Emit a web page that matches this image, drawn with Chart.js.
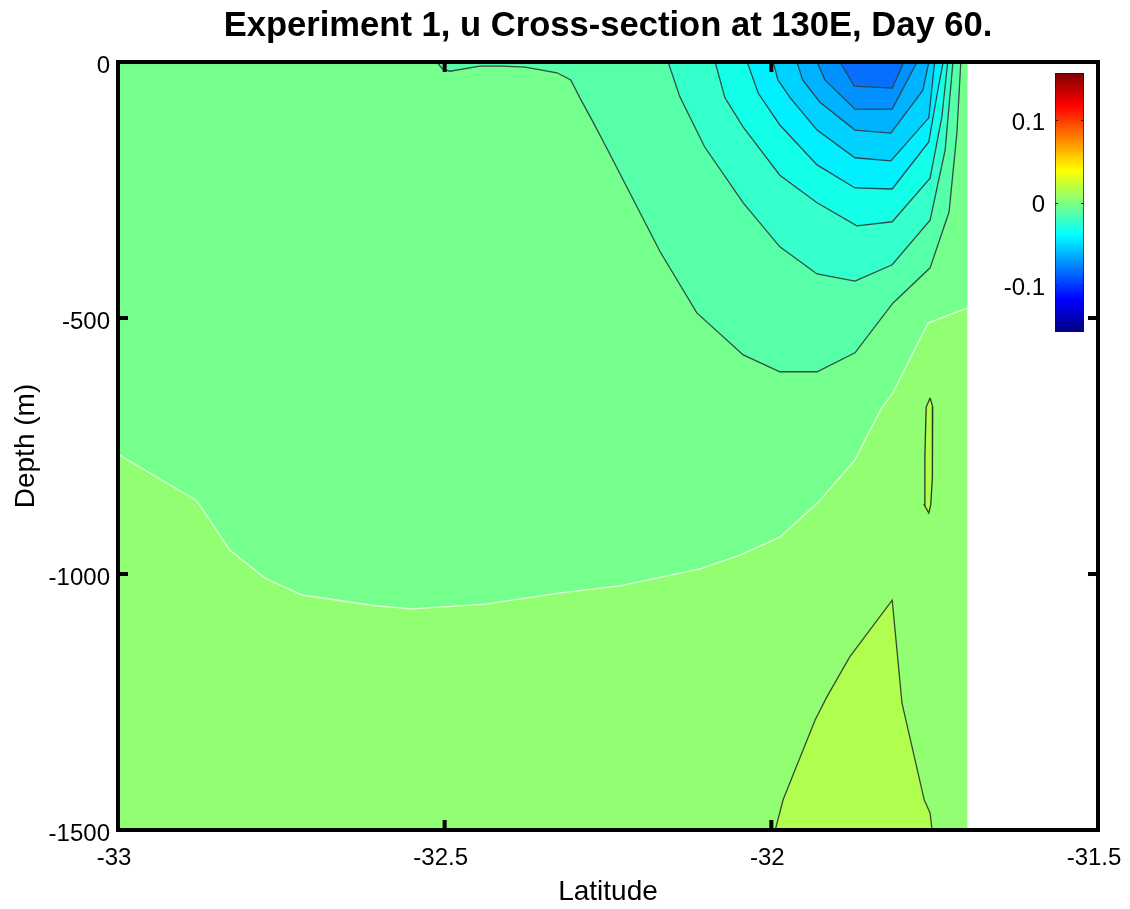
<!DOCTYPE html>
<html lang="en">

<head>
    <meta charset="UTF-8">
    <title>Experiment 1, u Cross-section at 130E, Day 60.</title>
    <script src="https://cdn.jsdelivr.net/npm/chart.js"></script>
    <style>
        body { margin: 0; background: #fff; }
        #wrap { position: relative; width: 1130px; height: 909px; }
        canvas { position: absolute; }
    </style>
</head>

<body>
    <div id="wrap">
        <canvas id="sectionChart" width="1130" height="909" style="left:0;top:0"></canvas>
        <canvas id="colorbar" width="100" height="285" style="left:990px;top:60px"></canvas>
    </div>
    <script>
        // axis ticks
        const latTicks = [-33, -32.5, -32, -31.5];
        const depthTicks = [-1500, -1000, -500, 0];
        const colorTicks = [-0.1, 0, 0.1];
        const colorRange = [-0.157, 0.157];

        // jet colormap of the colorbar, bottom to top
        const jetStops = [0, 0.125, 0.375, 0.625, 0.875, 1];
        const jetColors = ['#000080', '#0000ff', '#00ffff', '#ffff00', '#ff0000', '#800000'];

        // data region (lat runs out at -31.7)
        const baseLat = [-33, -31.7, -31.7, -33];
        const baseDepth = [0, 0, -1500, -1500];

        // contour lines, latitude / depth
        const lineALat = [-33, -32.882, -32.875, -32.829, -32.775, -32.718, -32.607, -32.55, -32.438, -32.323, -32.232, -32.109, -32.048, -31.987, -31.929, -31.872, -31.849, -31.831, -31.814, -31.76, -31.7];
        const lineADepth = [-766, -855, -865, -953, -1008, -1041, -1062, -1068, -1059, -1037, -1023, -990, -963, -928, -861, -777, -719, -676, -646, -510, -480];
        const cornerLat = [-31.7, -33];
        const cornerDepth = [0, 0];

        const lineBLat = [-32.512, -32.503, -32.492, -32.446, -32.411, -32.377, -32.328, -32.307, -32.293, -32.273, -32.252, -32.17, -32.114, -32.043, -31.987, -31.93, -31.872, -31.814, -31.757, -31.728, -31.716, -31.71];
        const lineBDepth = [0, -14, -18, -8, -8, -10, -21, -35, -70, -117, -168, -371, -490, -572, -605, -605, -568, -471, -402, -293, -139, 0];

        const lineCLat = [-32.158, -32.14, -32.102, -32.043, -31.987, -31.93, -31.872, -31.815, -31.757, -31.734, -31.722];
        const lineCDepth = [0, -68, -166, -275, -361, -414, -428, -396, -309, -172, 0];

        const lineDLat = [-32.086, -32.071, -32.043, -31.987, -31.93, -31.869, -31.815, -31.757, -31.739, -31.73];
        const lineDDepth = [0, -70, -127, -221, -275, -320, -312, -227, -107, 0];

        const lineELat = [-32.037, -32.02, -31.987, -31.93, -31.872, -31.815, -31.759, -31.746, -31.737];
        const lineEDepth = [0, -61, -123, -201, -246, -248, -156, -61, 0];

        const lineFLat = [-31.997, -31.99, -31.971, -31.93, -31.872, -31.817, -31.759, -31.75];
        const lineFDepth = [0, -35, -70, -133, -187, -193, -109, 0];

        const lineGLat = [-31.961, -31.952, -31.926, -31.872, -31.817, -31.768, -31.759];
        const lineGDepth = [0, -35, -78, -133, -139, -55, 0];

        const lineHLat = [-31.93, -31.918, -31.872, -31.815, -31.777];
        const lineHDepth = [0, -35, -92, -92, 0];

        const lineILat = [-31.895, -31.873, -31.815, -31.797];
        const lineIDepth = [0, -47, -51, 0];

        const patchLat = [-31.994, -31.982, -31.933, -31.915, -31.88, -31.815, -31.8, -31.766, -31.757, -31.754];
        const patchDepth = [-1500, -1441, -1285, -1240, -1162, -1051, -1252, -1441, -1467, -1500];

        const lensLat = [-31.757, -31.753, -31.753, -31.754, -31.756, -31.759, -31.766, -31.765, -31.763, -31.757];
        const lensDepth = [-656, -674, -723, -811, -865, -881, -865, -771, -674, -656];

        function toPoints(lats, depths) {
            return lats.map(function (lat, i) {
                return { x: lat, y: depths[i] };
            });
        }

        // painted back to front
        const layers = [
            { lat: baseLat, depth: baseDepth, color: '#92ff72', line: null },
            { lat: lineALat.concat(cornerLat), depth: lineADepth.concat(cornerDepth), color: '#75ff8c', line: null },
            { lat: lineBLat, depth: lineBDepth, color: '#57ffa8', line: '#2f4f45' },
            { lat: lineCLat, depth: lineCDepth, color: '#35ffca', line: '#2f4f45' },
            { lat: lineDLat, depth: lineDDepth, color: '#14ffe8', line: '#2f4f45' },
            { lat: lineELat, depth: lineEDepth, color: '#00f0ff', line: '#2a4a50' },
            { lat: lineFLat, depth: lineFDepth, color: '#00d2ff', line: '#2a4a50' },
            { lat: lineGLat, depth: lineGDepth, color: '#00b2ff', line: '#2a4a50' },
            { lat: lineHLat, depth: lineHDepth, color: '#0092ff', line: '#2a4a50' },
            { lat: lineILat, depth: lineIDepth, color: '#086eff', line: '#2a4a50' },
            { lat: patchLat, depth: patchDepth, color: '#b0ff4e', line: '#3a4a30' },
            { lat: lensLat, depth: lensDepth, color: '#b0ff4e', line: '#2a3a20' }
        ];

        const datasets = [];
        layers.forEach(function (layer, i) {
            datasets.push({
                data: toPoints(layer.lat, layer.depth),
                showLine: true,
                fill: 'shape',
                backgroundColor: layer.color,
                borderWidth: layer.line ? 1.3 : 0,
                borderColor: layer.line || layer.color,
                pointRadius: 0,
                order: 100 - i
            });
        });
        // the pale line between the two lightest bands, only along the contour
        datasets.push({
            data: toPoints(lineALat, lineADepth),
            showLine: true,
            fill: false,
            borderWidth: 1.3,
            borderColor: '#dcffd0',
            pointRadius: 0,
            order: 98
        });

        const tickFont = { family: '"Liberation Sans"', size: 24 };

        // thick matlab style box with inward ticks on all four sides
        const boxPlugin = {
            id: 'boxPlugin',
            afterDatasetsDraw: function (chart) {
                const ctx = chart.ctx;
                const a = chart.chartArea;
                ctx.save();
                ctx.fillStyle = '#000';
                latTicks.slice(1, -1).forEach(function (v) {
                    const px = chart.scales.x.getPixelForValue(v);
                    ctx.fillRect(px - 2, a.top, 4, 10);
                    ctx.fillRect(px - 2, a.bottom - 10, 4, 10);
                });
                depthTicks.slice(1, -1).forEach(function (v) {
                    const py = chart.scales.y.getPixelForValue(v);
                    ctx.fillRect(a.left, py - 2, 10, 4);
                    ctx.fillRect(a.right - 10, py - 2, 10, 4);
                });
                ctx.lineWidth = 4;
                ctx.strokeStyle = '#000';
                ctx.strokeRect(a.left, a.top, a.right - a.left, a.bottom - a.top);
                ctx.restore();
            }
        };

        new Chart(document.getElementById('sectionChart'), {
            type: 'scatter',
            data: { datasets: datasets },
            plugins: [boxPlugin],
            options: {
                responsive: false,
                animation: false,
                devicePixelRatio: 1,
                layout: { padding: { right: 32 } },
                plugins: {
                    legend: { display: false },
                    tooltip: { enabled: false },
                    title: {
                        display: true,
                        text: 'Experiment 1, u Cross-section at 130E, Day 60.',
                        color: '#000',
                        fullSize: false,
                        font: { family: '"Liberation Sans"', size: 34.6, weight: 'bold' },
                        padding: { top: 6, bottom: 14.5 }
                    }
                },
                scales: {
                    x: {
                        type: 'linear',
                        min: -33,
                        max: -31.5,
                        grid: { display: false },
                        border: { display: false },
                        afterBuildTicks: function (scale) {
                            scale.ticks = latTicks.map(function (v) { return { value: v }; });
                        },
                        afterFit: function (scale) {
                            scale.height = 79;
                            scale.paddingLeft = 0;
                            scale.paddingRight = 0;
                        },
                        ticks: {
                            color: '#000',
                            font: tickFont,
                            padding: 6,
                            labelOffset: -4,
                            maxRotation: 0,
                            autoSkip: false,
                            callback: function (v) { return String(v); }
                        },
                        title: {
                            display: true,
                            text: 'Latitude',
                            color: '#000',
                            font: { family: '"Liberation Sans"', size: 28 },
                            padding: { top: 0, bottom: 0 }
                        }
                    },
                    y: {
                        type: 'linear',
                        min: -1500,
                        max: 0,
                        grid: { display: false },
                        border: { display: false },
                        afterBuildTicks: function (scale) {
                            scale.ticks = depthTicks.map(function (v) { return { value: v }; });
                        },
                        afterFit: function (scale) {
                            scale.width = 118;
                            scale.paddingTop = 0;
                            scale.paddingBottom = 0;
                        },
                        ticks: {
                            color: '#000',
                            font: tickFont,
                            padding: 0,
                            labelOffset: 4,
                            autoSkip: false,
                            callback: function (v) { return String(v); }
                        },
                        title: {
                            display: true,
                            text: 'Depth (m)',
                            color: '#000',
                            font: { family: '"Liberation Sans"', size: 28 },
                            padding: { top: 9, bottom: 0 }
                        }
                    }
                }
            }
        });

        // colorbar, one floating bar with the jet gradient
        function jetGradient(context) {
            const chart = context.chart;
            if (!chart.chartArea) {
                return jetColors[0];
            }
            const g = chart.ctx.createLinearGradient(0, chart.chartArea.bottom, 0, chart.chartArea.top);
            jetStops.forEach(function (s, i) {
                g.addColorStop(s, jetColors[i]);
            });
            return g;
        }

        const colorTickPlugin = {
            id: 'colorTickPlugin',
            afterDatasetsDraw: function (chart) {
                const ctx = chart.ctx;
                const a = chart.chartArea;
                ctx.save();
                ctx.fillStyle = '#222';
                colorTicks.forEach(function (v) {
                    const py = Math.round(chart.scales.y.getPixelForValue(v));
                    ctx.fillRect(a.left, py, 3, 1);
                    ctx.fillRect(a.right - 3, py, 3, 1);
                });
                ctx.restore();
            }
        };

        new Chart(document.getElementById('colorbar'), {
            type: 'bar',
            data: {
                labels: [''],
                datasets: [{
                    data: [colorRange],
                    backgroundColor: jetGradient,
                    borderColor: '#111',
                    borderWidth: 1,
                    borderSkipped: false,
                    barPercentage: 1,
                    categoryPercentage: 1
                }]
            },
            plugins: [colorTickPlugin],
            options: {
                responsive: false,
                animation: false,
                devicePixelRatio: 1,
                layout: { padding: { top: 13, bottom: 13, right: 6 } },
                plugins: {
                    legend: { display: false },
                    tooltip: { enabled: false }
                },
                scales: {
                    x: { display: false },
                    y: {
                        min: colorRange[0],
                        max: colorRange[1],
                        grid: { display: false },
                        border: { display: false },
                        afterBuildTicks: function (scale) {
                            scale.ticks = colorTicks.map(function (v) { return { value: v }; });
                        },
                        afterFit: function (scale) {
                            scale.width = 65;
                            scale.paddingTop = 0;
                            scale.paddingBottom = 0;
                        },
                        ticks: {
                            color: '#000',
                            font: tickFont,
                            padding: 2,
                            labelOffset: 3,
                            callback: function (v) { return String(v); }
                        }
                    }
                }
            }
        });
    </script>
</body>

</html>
